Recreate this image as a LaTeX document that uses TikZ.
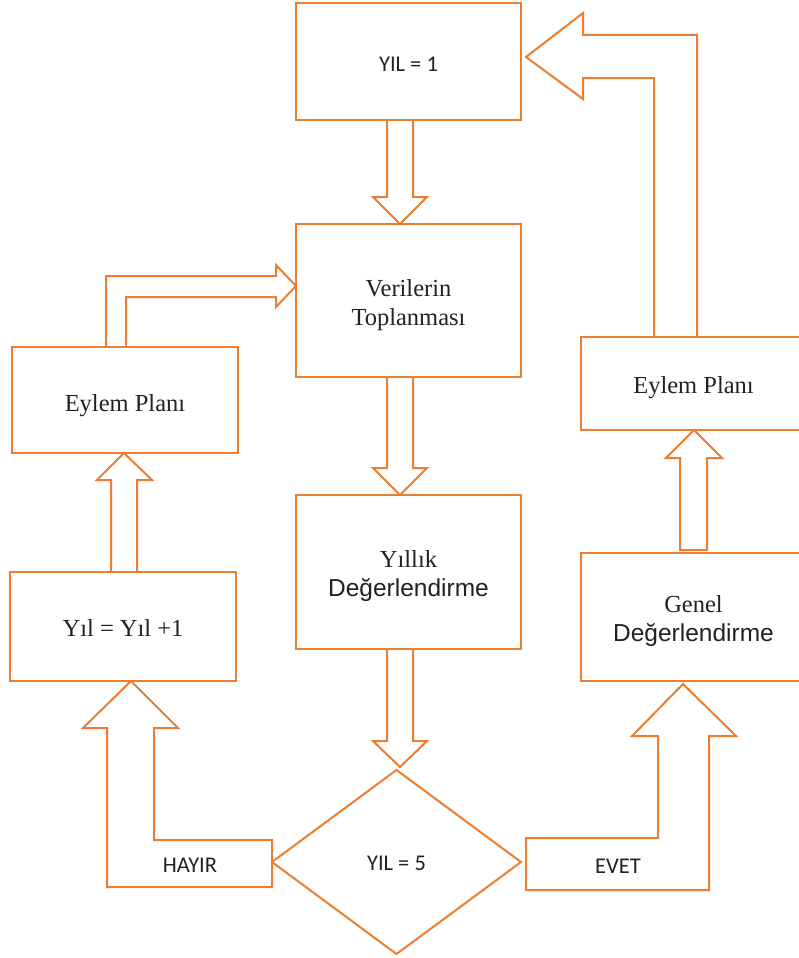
\documentclass[tikz,border=0pt]{standalone}
\usepackage{fontspec}
\setmainfont{Liberation Serif}
\newfontfamily\arialf{Liberation Sans}
\newfontfamily\calf{Carlito}
\usetikzlibrary{shapes.geometric}
\definecolor{orng}{HTML}{ED7D31}
\definecolor{txt}{HTML}{222222}
\begin{document}
\begin{tikzpicture}[x=1pt,y=-1pt,
  box/.style={draw=orng, line width=2pt, rectangle, inner sep=0pt, outer sep=0pt},
  tx/.style={text=txt, align=center, inner sep=0pt, font=\fontsize{24.5}{29}\selectfont},
  ctx/.style={text=txt, inner sep=0pt, font=\calf\fontsize{22.5}{27}\selectfont},
  dia/.style={draw=orng, line width=2pt, diamond, inner sep=0pt, outer sep=0pt},
  blk/.style={draw=orng, line width=2pt, line join=miter},
  lbl/.style={text=txt, inner sep=0pt, font=\calf\fontsize{22.5}{27}\selectfont}]
\fill[white] (0,0) rectangle (799,958);
\useasboundingbox (0,0) rectangle (799,958);

% boxes
\node[box, minimum width=225pt, minimum height=117pt,
  label={[ctx, yshift=-3pt]center:{YIL = 1}}] (y1) at (408.5,61.5) {};
\node[box, minimum width=225pt, minimum height=153pt,
  label={[tx, yshift=-5pt]center:{Verilerin\\Toplanması}}] (ver) at (408.5,300.5) {};
\node[box, minimum width=225pt, minimum height=154pt,
  label={[tx, yshift=-4.5pt]center:{Yıllık\\{\arialf Değerlendirme}}}] (yil) at (408.5,572) {};
\node[box, minimum width=226pt, minimum height=106pt,
  label={[tx, yshift=-6pt]center:{Eylem Planı}}] (lep) at (125,400) {};
\node[box, minimum width=226pt, minimum height=109pt,
  label={[tx, yshift=-1pt]center:{Yıl = Yıl +1}}] (lyil) at (123,626.5) {};
\node[box, minimum width=225pt, minimum height=93pt,
  label={[tx, yshift=-4pt]center:{Eylem Planı}}] (rep) at (693.5,383.5) {};
\node[box, minimum width=225pt, minimum height=128pt,
  label={[tx, yshift=-4.5pt]center:{Genel\\{\arialf Değerlendirme}}}] (gen) at (693.5,617) {};
\node[dia, minimum width=249pt, minimum height=184pt,
  label={[ctx, yshift=-1pt]center:{YIL = 5}}] (d5) at (396.5,862) {};

% block arrows
\draw[blk] (387,0 |- y1.south) -- (387,197) -- (373,197) -- (400,0 |- ver.north)
  -- (427,197) -- (413,197) -- (413,0 |- y1.south);
\draw[blk] (387,0 |- ver.south) -- (387,468) -- (373,468) -- (400,0 |- yil.north)
  -- (427,468) -- (413,468) -- (413,0 |- ver.south);
\draw[blk] (387,0 |- yil.south) -- (387,741) -- (373,741) -- (400,767)
  -- (427,741) -- (413,741) -- (413,0 |- yil.south);
% HAYIR
\draw[blk] (d5.west |- 0,840) -- (154,840) -- (154,728) -- (178,728)
  -- (131,0 |- lyil.south) -- (83,728) -- (107,728) -- (107,887)
  -- (d5.west |- 0,887) -- cycle;
\node[lbl] (hayir) at (190,865) {HAYIR};
% EVET
\draw[blk] (526,838) -- (658,838) -- (658,736) -- (632,736) -- (683,684)
  -- (736,736) -- (709,736) -- (709,890) -- (526,890) -- cycle;
\node[lbl] (evet) at (618,866) {EVET};
% Genel -> Eylem (right)
\draw[blk] (680,550) -- (680,458) -- (666,458) -- (694,0 |- rep.south)
  -- (722,458) -- (707,458) -- (707,550) -- cycle;
% Eylem (right) -> YIL = 1
\draw[blk] (654,0 |- rep.north) -- (654,78) -- (583,78) -- (583,99) -- (526,57)
  -- (583,13) -- (583,35) -- (697,35) -- (697,0 |- rep.north);
% Eylem (left) -> Verilerin
\draw[blk] (106,0 |- lep.north) -- (106,276) -- (276,276) -- (276,265)
  -- (ver.west |- 0,286) -- (276,307) -- (276,297) -- (126,297) -- (126,0 |- lep.north);
% Yil+1 -> Eylem (left)
\draw[blk] (111,0 |- lyil.north) -- (111,480) -- (97,480) -- (124,0 |- lep.south)
  -- (152,480) -- (137,480) -- (137,0 |- lyil.north);
\end{tikzpicture}
\end{document}
